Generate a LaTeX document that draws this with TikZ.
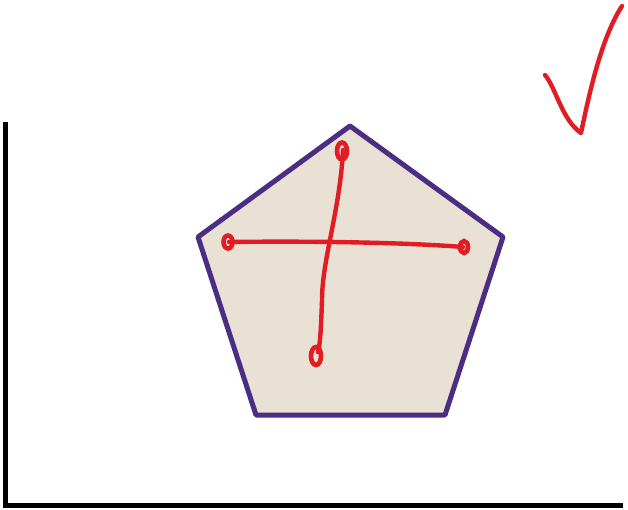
\documentclass[tikz,border=0pt]{standalone}
\usetikzlibrary{calc}

\definecolor{penedge}{HTML}{4B2D84}
\definecolor{penfill}{HTML}{E8E1D4}
\definecolor{inkred}{HTML}{E31B23}

\begin{document}
\begin{tikzpicture}[
  x=1pt, y=-1pt,
  axis/.style={draw=black, line width=5pt},
  pentagon/.style={draw=penedge, fill=penfill, line width=5pt, line join=round},
  ink/.style={draw=inkred, line width=4.4pt, line cap=round, line join=round},
  blob/.style={draw=inkred, line width=4.6pt}
]
\useasboundingbox (0,0) rectangle (628,509);

% axes
\coordinate (origin) at (5.5,505);
\draw[axis] (5.5,122) -- (origin) -- (623,505);

% pentagon
\coordinate (ptop) at (350,126);
\coordinate (pright) at (503,237);
\coordinate (pbr) at (445,415);
\coordinate (pbl) at (256,415);
\coordinate (pleft) at (198,237);
\draw[pentagon] (ptop) -- (pright) -- (pbr) -- (pbl) -- (pleft) -- cycle;

% strokes across the pentagon
\coordinate (h1) at (229,242);
\coordinate (h2) at (463,247);
\coordinate (v1) at (343,150);
\coordinate (v2) at (318,352);
\draw[ink] (h1) .. controls (300,241) and (400,242) .. (h2);
\draw[ink] (v1) .. controls (340,210) and (322,260) .. (322,300) .. controls (321,330) and (320,345) .. (v2);

% loops at the stroke ends
\draw[blob] (228,242) ellipse (4.5 and 6.5);
\draw[blob] (464,247) ellipse (4 and 6);
\draw[blob] (342,151) ellipse (5 and 8.5);
\draw[blob] (316,356) ellipse (5 and 9);

% check mark
\coordinate (c1) at (545,75);
\coordinate (c2) at (581,133);
\coordinate (c3) at (622,6);
\draw[ink] (c1) .. controls (556,88) and (562,120) .. (c2)
  .. controls (588,100) and (600,40) .. (c3);
\end{tikzpicture}
\end{document}
